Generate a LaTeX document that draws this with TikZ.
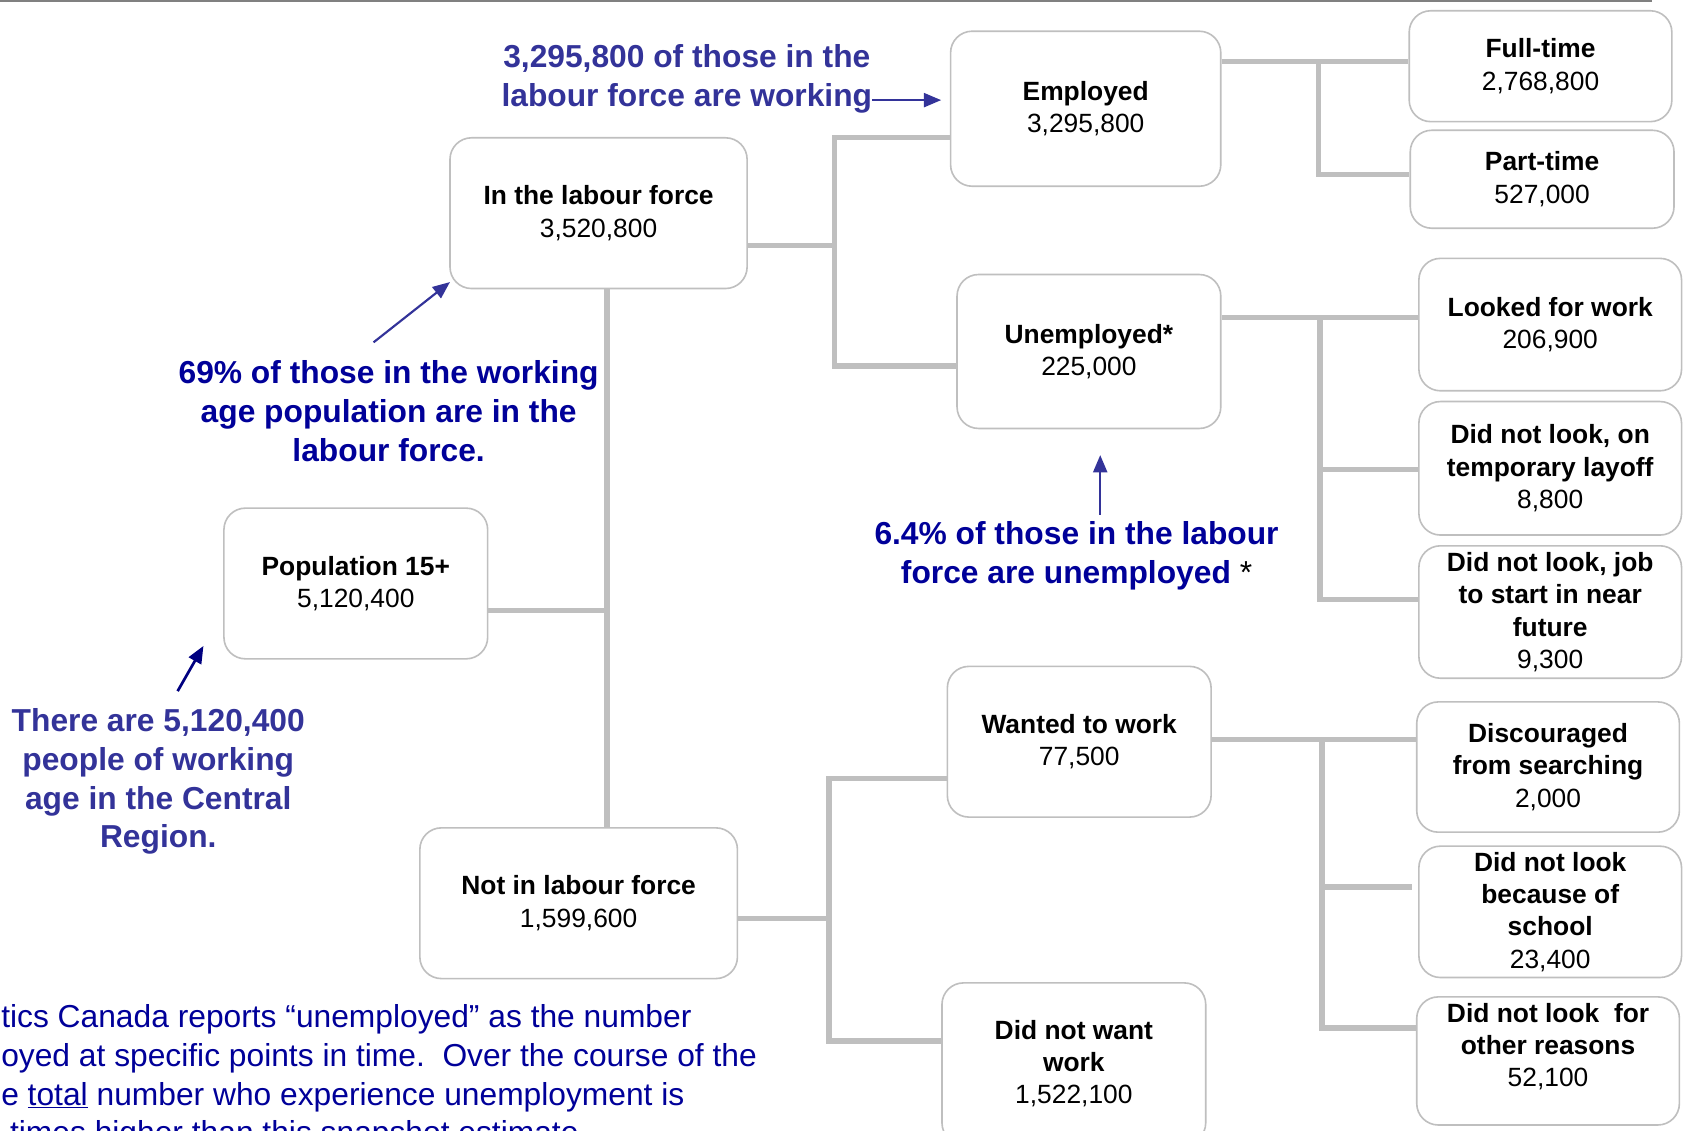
\documentclass[tikz,border=0pt]{standalone}
\usepackage{fontspec}
\setmainfont{Liberation Sans}
\usetikzlibrary{shapes, arrows, arrows.meta}
\definecolor{linegray}{RGB}{191,191,191}
\definecolor{noteblue}{RGB}{51,51,153}
\definecolor{deepblue}{RGB}{0,0,153}
\definecolor{navyblue}{RGB}{0,0,128}
\newcommand{\boxfont}{\fontsize{24.5}{30}\selectfont}
\newcommand{\notefont}{\fontsize{29.5}{36}\selectfont}
\tikzstyle{box} = [rectangle, rounded corners=20pt, draw=linegray, line width=1.5pt, fill=white, align=center, font=\boxfont\bfseries, inner sep=0pt]
\tikzstyle{link} = [draw=linegray, line width=5pt]
\tikzstyle{note} = [align=center, font=\notefont\bfseries, inner sep=0pt]
\tikzstyle{pointer} = [line width=2pt, -{Triangle[length=16pt,width=13pt]}]
\newcommand{\entry}[2]{#1\\\mdseries #2}

\begin{document}
\begin{tikzpicture}[x=1pt, y=-1pt]
\useasboundingbox (0,0) rectangle (1568,1050);
\clip (0,0) rectangle (1568,1050);
\draw[gray, line width=1.5pt] (0,1) -- (1535,1);

% boxes
\node[box, minimum width=245pt, minimum height=140pt] (pop) at (330.5,542) {\entry{Population 15+}{5,120,400}};
\node[box, minimum width=276pt, minimum height=140pt] (lab) at (556,198) {\entry{In the labour force}{3,520,800}};
\node[box, minimum width=295pt, minimum height=140pt] (nlf) at (537.5,839) {\entry{Not in labour force}{1,599,600}};
\node[box, minimum width=251pt, minimum height=144pt] (emp) at (1008.5,101) {\entry{Employed}{3,295,800}};
\node[box, minimum width=245pt, minimum height=143pt] (unemp) at (1011.5,326.5) {\entry{Unemployed*}{225,000}};
\node[box, minimum width=245pt, minimum height=140pt] (want) at (1002.5,689) {\entry{Wanted to work}{77,500}};
\node[box, minimum width=245pt, minimum height=150pt] (nowant) at (997.5,988) {\entry{Did not want\\work}{1,522,100}};
\node[box, minimum width=244pt, minimum height=103pt] (ft) at (1431,61.5) {\entry{Full-time}{2,768,800}};
\node[box, minimum width=245pt, minimum height=91pt] (pt) at (1432.5,166.5) {\entry{Part-time}{527,000}};
\node[box, minimum width=244pt, minimum height=123pt] (look) at (1440,301.5) {\entry{Looked for work}{206,900}};
\node[box, minimum width=244pt, minimum height=124pt] (layoff) at (1440,435) {\entry{Did not look, on\\temporary layoff}{8,800}};
\node[box, minimum width=244pt, minimum height=123pt] (future) at (1440,568.5) {\entry{Did not look, job\\to start in near\\future}{9,300}};
\node[box, minimum width=244pt, minimum height=121pt] (disc) at (1438,712.5) {\entry{Discouraged\\from searching}{2,000}};
\node[box, minimum width=244pt, minimum height=122pt] (school) at (1440,847) {\entry{Did not look\\because of\\school}{23,400}};
\node[box, minimum width=244pt, minimum height=119pt] (other) at (1438,985.5) {\entry{Did not look\ \ for\\other reasons}{52,100\\\mbox{}}};

% connectors
\coordinate (tj) at (564,567);
\draw[link] (pop.east |- tj) -- (tj);
\draw[link] (lab.south -| tj) -- (nlf.north -| tj);

\coordinate (lj) at (775,228);
\coordinate (lt) at (775,128);
\coordinate (lb) at (775,340);
\draw[link] (lab.east |- lj) -- (lj);
\draw[link] (emp.west |- lt) -- (lt) -- (lb) -- (unemp.west |- lb);

\coordinate (nj) at (770,853);
\coordinate (nt) at (770,723);
\coordinate (nb) at (770,967);
\draw[link] (nlf.east |- nj) -- (nj);
\draw[link] (want.west |- nt) -- (nt) -- (nb) -- (nowant.west |- nb);

\coordinate (ej) at (1225,57);
\coordinate (ek) at (1225,162);
\draw[link] (emp.east |- ej) -- (ft.west |- ej);
\draw[link] (ej) -- (ek) -- (pt.west |- ek);

\coordinate (uj) at (1226,295);
\coordinate (uk) at (1226,436);
\coordinate (ul) at (1226,557);
\draw[link] (unemp.east |- uj) -- (look.west |- uj);
\draw[link] (uj) -- (ul) -- (future.west |- ul);
\draw[link] (uk) -- (layoff.west |- uk);

\coordinate (wj) at (1228,687);
\coordinate (wk) at (1228,824);
\coordinate (wl) at (1228,955);
\draw[link] (want.east |- wj) -- (disc.west |- wj);
\draw[link] (wj) -- (wl) -- (other.west |- wl);
\draw[link, shorten >=6pt] (wk) -- (school.west |- wk);

% notes
\node[note, text=noteblue] (n1) at (638,73) {3,295,800 of those in the\\labour force are working};
\node[note, text=deepblue] (n2) at (361,382) {69\% of those in the working\\age population are in the\\labour force.};
\node[note, text=deepblue] (n3) at (1000,516) {6.4\% of those in the labour\\force are unemployed {\mdseries\color{black}*}};
\node[note, text=noteblue] (n4) at (147,726) {There are 5,120,400\\people of working\\age in the Central\\Region.};
\node[align=left, anchor=north west, inner sep=0pt, font=\notefont, text=deepblue] (foot) at (1,933)
  {tics Canada reports “unemployed” as the number\\oyed at specific points in time.\ \ Over the course of the\\e \underline{total} number who experience unemployment is\\\ times higher than this snapshot estimate.};

% pointers
\coordinate (w1) at (810,93);
\draw[pointer, noteblue, shorten >=8pt] (w1) -- (emp.west |- w1);
\coordinate (w2) at (347,318);
\coordinate (w2tip) at (418,262);
\draw[pointer, noteblue] (w2) -- (w2tip);
\coordinate (w3) at (1022,478);
\draw[pointer, noteblue, shorten >=24pt] (w3) -- (unemp.south -| w3);
\coordinate (w4) at (165,642);
\coordinate (w4tip) at (189,600);
\draw[pointer, navyblue, line width=2.5pt] (w4) -- (w4tip);
\end{tikzpicture}
\end{document}
